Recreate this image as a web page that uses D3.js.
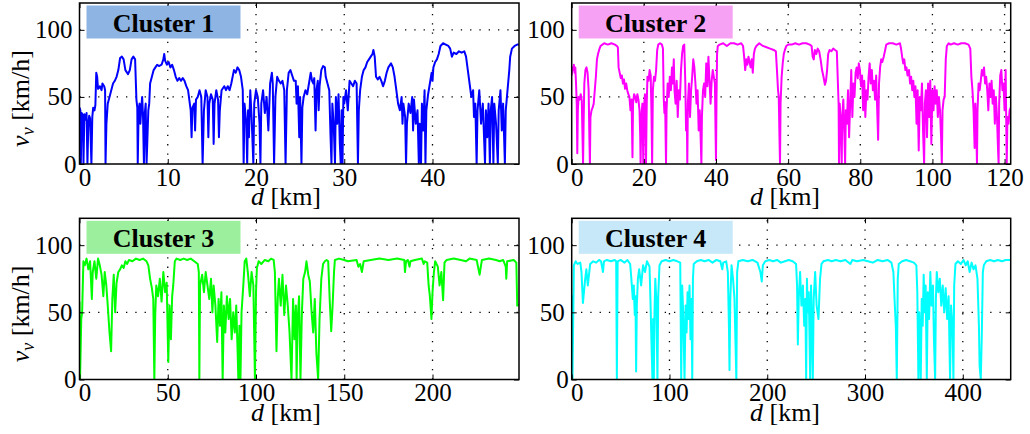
<!DOCTYPE html>
<html>
<head>
<meta charset="utf-8">
<script src="https://cdn.jsdelivr.net/npm/d3@7"></script>
<style>
  body { margin: 0; background: #fff; }
  svg text { font-family: "Liberation Serif", "Times New Roman", Times, serif; fill: #000; }
</style>
</head>
<body>
<svg id="chart" width="1030" height="434"></svg>
<script>
// Vehicle speed v_v [km/h] against travelled distance d [km], one trace per cluster.
const cluster1 = [
  [0,42],[0.1,40],[0.15,0],[0.25,38],[0.4,36],[0.45,0],[0.55,37],[0.7,33],[0.8,38],[0.9,0],[1.0,30],[1.1,36],[1.2,34],[1.35,0],
  [1.45,35],[1.55,42],[1.7,40],[1.8,44],[1.9,68],[2.0,65],[2.1,56],[2.3,58],[2.5,55],[2.6,60],[2.8,58],[2.9,55],[2.95,0],[3.05,30],
  [3.2,45],[3.4,50],[3.6,55],[3.8,60],[4.0,62],[4.2,65],[4.4,70],[4.6,79],[4.8,80],[5.0,78],[5.2,70],[5.5,67],[5.7,70],[5.9,78],
  [6.1,80],[6.3,78],[6.45,48],[6.55,42],[6.6,0],[6.7,40],[6.8,45],[6.9,30],[7.0,42],[7.1,50],[7.2,35],[7.3,0],[7.4,38],[7.5,45],
  [7.6,0],[7.7,20],[7.8,40],[7.9,45],[8.0,60],[8.2,65],[8.4,70],[8.6,72],[8.8,74],[9.0,73],[9.3,74],[9.5,78],[9.6,82],[9.7,77],
  [9.9,74],[10.1,76],[10.3,72],[10.5,74],[10.7,70],[10.9,65],[11.1,62],[11.3,64],[11.5,62],[11.7,64],[11.9,62],[12.1,58],[12.3,55],
  [12.5,45],[12.6,40],[12.7,20],[12.8,42],[13.0,45],[13.1,25],[13.2,48],[13.4,50],[13.6,55],[13.8,50],[13.95,0],[14.1,40],[14.3,55],
  [14.5,50],[14.6,20],[14.7,45],[14.9,52],[15.1,48],[15.2,15],[15.3,45],[15.5,55],[15.7,48],[15.8,20],[15.9,40],[16.1,55],[16.4,58],
  [16.6,55],[16.8,58],[17.0,55],[17.2,60],[17.5,70],[17.7,68],[17.9,72],[18.1,70],[18.3,65],[18.5,55],[18.6,0],[18.7,45],[18.9,30],
  [19.0,0],[19.1,40],[19.2,20],[19.35,55],[19.5,35],[19.7,0],[19.8,45],[20.0,55],[20.2,50],[20.4,30],[20.5,0],[20.6,45],[20.8,55],
  [21.0,38],[21.2,50],[21.4,25],[21.6,60],[21.8,68],[21.9,60],[22.05,0],[22.2,50],[22.4,65],[22.6,62],[22.8,60],[23.0,62],[23.2,55],
  [23.35,0],[23.5,55],[23.7,68],[23.9,70],[24.1,66],[24.3,62],[24.5,62],[24.6,45],[24.75,58],[24.9,20],[25.0,50],[25.15,0],[25.25,42],
  [25.4,50],[25.6,55],[25.8,52],[26.0,60],[26.2,68],[26.35,62],[26.5,60],[26.6,64],[26.75,25],[26.85,55],[27.0,62],[27.1,40],[27.2,58],
  [27.4,70],[27.6,73],[27.8,72],[27.9,65],[28.1,60],[28.3,55],[28.45,20],[28.55,0],[28.65,45],[28.8,30],[28.95,0],[29.05,50],[29.2,30],
  [29.35,52],[29.5,15],[29.6,0],[29.7,40],[29.8,0],[29.9,50],[30.0,45],[30.2,55],[30.4,40],[30.6,62],[30.8,60],[31.0,58],[31.2,62],
  [31.4,60],[31.55,0],[31.65,40],[31.8,55],[32.0,65],[32.2,70],[32.4,72],[32.6,76],[32.8,78],[33.0,80],[33.2,82],[33.3,85],[33.45,80],
  [33.6,65],[33.8,63],[34.0,65],[34.2,62],[34.4,58],[34.6,62],[34.8,68],[35.0,72],[35.3,75],[35.5,72],[35.7,65],[35.9,55],[36.1,45],
  [36.3,40],[36.5,50],[36.6,30],[36.7,45],[36.9,35],[37.0,0],[37.1,30],[37.3,45],[37.5,38],[37.7,50],[37.8,25],[37.9,48],[38.1,30],
  [38.3,40],[38.45,0],[38.55,30],[38.7,0],[38.8,45],[38.95,25],[39.1,55],[39.2,0],[39.3,40],[39.5,52],[39.7,60],[39.9,68],[40.0,62],
  [40.1,72],[40.3,76],[40.5,78],[40.7,82],[40.9,88],[41.2,90],[41.5,89],[41.8,88],[42.0,86],[42.2,80],[42.4,83],[42.7,82],[43.0,84],
  [43.3,83],[43.6,84],[43.8,80],[44.0,70],[44.2,60],[44.4,50],[44.6,55],[44.7,35],[44.85,45],[45.0,0],[45.1,40],[45.3,55],[45.5,30],
  [45.7,45],[45.95,0],[46.05,40],[46.2,20],[46.35,45],[46.5,0],[46.6,40],[46.75,50],[46.9,0],[47.0,45],[47.2,30],[47.4,0],[47.5,40],
  [47.7,55],[47.85,25],[48.0,45],[48.2,0],[48.3,40],[48.5,55],[48.7,70],[48.8,80],[49.0,86],[49.3,88],[49.6,89],[49.8,89]
];

const cluster2 = [
  [0,66],[0.2,72],[0.4,70],[0.6,74],[0.8,68],[1.0,72],[1.2,60],[1.4,45],[1.55,8],[1.7,40],[1.9,50],[2.2,48],[2.5,52],[2.8,47],
  [3.0,20],[3.15,0],[3.3,30],[3.5,60],[3.8,70],[4.1,72],[4.4,68],[4.7,55],[4.9,20],[5.05,0],[5.2,35],[5.5,40],[5.8,42],[6.1,45],
  [6.4,55],[6.7,65],[7.0,78],[7.3,82],[7.6,85],[8.0,88],[8.5,89],[9.0,90],[10.0,89],[11.0,90],[12.0,89],[12.5,88],[12.8,87],[13.0,72],
  [13.3,68],[13.6,64],[13.9,66],[14.2,60],[14.5,63],[14.8,56],[15.1,60],[15.4,55],[15.7,52],[16.0,50],[16.3,40],[16.6,48],[16.85,5],
  [17.0,45],[17.3,52],[17.6,50],[17.9,46],[18.2,52],[18.5,48],[18.8,40],[19.0,20],[19.1,0],[19.3,35],[19.6,45],[19.85,0],[20.0,40],
  [20.3,52],[20.6,0],[20.8,45],[21.0,65],[21.3,62],[21.6,70],[21.9,66],[22.1,40],[22.3,0],[22.5,55],[22.8,65],[23.1,62],[23.4,70],
  [23.7,85],[24.0,89],[24.5,90],[25.0,89],[25.3,86],[25.5,50],[25.7,38],[25.9,46],[26.15,0],[26.3,40],[26.6,60],[26.9,50],[27.2,65],
  [27.5,55],[27.8,72],[28.0,60],[28.3,78],[28.5,55],[28.8,45],[29.1,62],[29.4,35],[29.7,55],[30.0,48],[30.3,70],[30.6,82],[30.9,88],
  [31.2,89],[31.5,60],[31.7,25],[31.9,40],[32.05,0],[32.2,45],[32.5,60],[32.8,35],[33.1,55],[33.4,65],[33.7,78],[34.0,72],[34.3,60],
  [34.6,45],[34.9,55],[35.2,25],[35.5,40],[35.8,15],[35.95,0],[36.1,35],[36.4,55],[36.7,60],[37.0,50],[37.3,75],[37.6,58],[37.9,80],
  [38.2,62],[38.5,45],[38.8,62],[39.1,70],[39.4,65],[39.7,60],[39.9,20],[40.0,3],[40.15,50],[40.3,82],[40.5,88],[41,89],[42,90],
  [43,88],[44,90],[45,90],[46,89],[47,90],[47.5,88],[47.8,80],[48.1,70],[48.4,78],[48.7,74],[49.0,80],[49.3,76],[49.6,72],[49.9,78],
  [50.2,68],[50.5,82],[50.8,86],[51.2,88],[52,90],[53,88],[54,87],[55,86],[56,85],[56.6,84],[56.9,70],[57.2,55],[57.4,50],[57.6,20],
  [57.75,0],[57.9,45],[58.2,65],[58.5,75],[58.8,82],[59.1,85],[59.5,88],[60,89],[61,89],[62,90],[63,89],[64,90],[65,90],[66,89],
  [66.5,88],[66.8,80],[67.1,78],[67.4,85],[67.8,82],[68.2,86],[68.6,84],[69.0,78],[69.4,70],[69.8,65],[70.2,59],[70.5,62],[70.8,70],
  [71.1,82],[71.5,85],[72,84],[72.5,86],[73,85],[73.5,84],[73.8,60],[74.0,44],[74.1,0],[74.3,45],[74.6,30],[74.85,0],[75.0,35],
  [75.3,48],[75.6,20],[75.8,0],[76.0,40],[76.3,30],[76.6,55],[76.9,20],[77.2,45],[77.5,70],[77.8,35],[78.1,60],[78.4,50],[78.7,68],
  [79.0,72],[79.3,64],[79.6,75],[79.9,70],[80.2,58],[80.5,66],[80.8,40],[81.1,62],[81.4,35],[81.7,55],[82.0,48],[82.3,65],[82.6,75],
  [82.9,60],[83.2,70],[83.5,55],[83.8,62],[84.1,48],[84.4,66],[84.7,40],[84.95,18],[85.2,60],[85.5,72],[85.8,78],[86.1,76],[86.5,80],
  [86.9,85],[87.2,89],[88,90],[89,90],[90,89],[91,90],[91.3,86],[91.6,80],[91.9,75],[92.2,78],[92.5,70],[92.8,72],[93.1,66],[93.5,70],
  [93.8,60],[94.1,65],[94.4,55],[94.7,62],[95.0,50],[95.3,58],[95.6,30],[95.9,55],[96.2,10],[96.5,50],[96.8,40],[97.1,60],[97.4,25],
  [97.7,0],[97.9,45],[98.2,55],[98.5,20],[98.8,60],[99.1,35],[99.4,62],[99.7,15],[100.0,55],[100.3,40],[100.6,58],[100.9,45],[101.2,55],
  [101.5,35],[101.8,50],[102.1,40],[102.4,20],[102.6,0],[102.8,40],[103.1,48],[103.4,50],[103.7,78],[104.0,88],[104.5,90],[105,89],
  [106,90],[107,89],[108,90],[109,90],[110,89],[110.5,86],[110.8,65],[111.1,55],[111.4,40],[111.7,12],[111.9,45],[112.2,20],[112.35,0],
  [112.5,40],[112.8,60],[113.1,55],[113.4,62],[113.7,70],[114.0,66],[114.3,72],[114.6,60],[114.9,65],[115.2,55],[115.5,40],[115.8,60],
  [116.1,50],[116.4,62],[116.7,45],[117.0,55],[117.3,30],[117.6,50],[117.9,35],[118.2,10],[118.35,0],[118.5,45],[118.8,66],[119.1,70],
  [119.4,55],[119.7,60],[120.0,40],[120.3,70],[120.6,0],[120.8,35],[121.1,30],[121.4,40],[121.7,42]
];

const cluster3 = [
  [0,58],[0.3,0],[1.0,45],[1.5,50],[2.2,88],[3,85],[4,90],[5,82],[6,88],[7,60],[7.5,80],[8.5,88],[9.5,75],[10.5,90],[11.5,85],
  [12.5,78],[13.5,62],[14.3,80],[15.2,70],[16,55],[17,35],[17.9,21],[18.6,60],[19.4,78],[20.2,50],[21,72],[22,80],[23,82],[24,85],
  [25,83],[26,88],[27,86],[28,89],[30,88],[32,90],[34,89],[36,90],[38,88],[39,85],[40,75],[41,68],[41.8,60],[42.4,0],[42.9,48],
  [43.5,70],[44.5,62],[45.5,75],[46.5,58],[47.5,80],[48.5,65],[49.4,72],[50.3,13],[51,55],[51.8,30],[52.5,62],[53.1,70],[54,88],
  [55,90],[57,89],[59,90],[61,89],[63,90],[65,88],[67,86],[67.6,80],[67.9,0],[68.3,70],[69.5,78],[70.5,65],[71.5,80],[72.5,70],
  [73.5,60],[74.5,75],[75.3,50],[76,70],[77,55],[78,28],[78.8,60],[79.6,40],[80.4,65],[81.1,0],[81.8,55],[82.6,35],[83.5,62],
  [84.5,45],[85.3,60],[86.2,30],[87.1,50],[88,35],[88.8,55],[89.6,20],[90,0],[90.6,40],[91.2,0],[91.8,50],[92.8,70],[93.6,88],
  [94.5,90],[95.5,78],[96.5,62],[97.5,80],[98.5,70],[99.4,0],[100,65],[100.5,83],[101.5,88],[103,86],[105,89],[107,88],[108.5,90],
  [110,89],[110.7,80],[111.6,21],[112.3,60],[113,75],[114,55],[115,78],[116,48],[117,70],[118,55],[119,35],[120.1,0],[121,60],
  [121.8,30],[122.6,55],[123,0],[123.6,45],[124.4,62],[125.2,0],[126,50],[126.8,75],[127.8,80],[128.6,88],[129.6,78],[130.5,73],
  [131.5,50],[132.4,35],[133.3,60],[134.2,20],[135.2,0],[136,45],[137,75],[138,86],[139,88],[140,89],[140.9,88],[141.8,58],[142.6,36],
  [143.4,55],[144.2,80],[144.7,89],[147,90],[150,89],[152,88],[157,89],[158,84],[159,86],[160,80],[161,88],[165,89],[170,90],
  [175,89],[180,90],[184,89],[184.4,80],[185,88],[186,89],[187,84],[187.5,88],[190,89],[194,90],[195,86],[195.6,88],[197,87],
  [197.8,70],[198.5,62],[199.4,45],[200,65],[200.8,80],[201.5,88],[203,84],[204,70],[205,80],[206,59],[206.8,87],[208,89],[212,90],
  [216,89],[219,88],[221,90],[225,89],[226.7,78],[227.5,85],[228,89],[232,90],[236,89],[238,88],[240,89],[241.5,84],[241.8,75],
  [242.3,88],[246,89],[247.5,87],[248,55],[249,56]
];

const cluster4 = [
  [0,63],[0.8,0],[2.2,85],[4,88],[6,86],[8.8,87],[10,80],[11.5,57],[12.5,65],[13.8,75],[15,82],[16.5,70],[18.9,86],[22,88],
  [25,87],[28,89],[30,88],[32,80],[33,88],[36,89],[40,88],[44,89],[45.5,88],[46.2,0],[47,88],[50,89],[54,87],[57,89],[59.8,86],
  [61,75],[62.5,60],[63.5,70],[64.5,48],[65.2,62],[65.9,6],[66.6,55],[67.7,75],[69,82],[71,70],[73,85],[75,80],[77,88],[79.6,84],
  [80.5,60],[81.5,30],[82.6,0],[83.3,45],[84,0],[84.7,50],[85.5,75],[86.5,60],[87.7,0],[88.5,62],[89.8,85],[92,88],[96,89],
  [100,88],[104,89],[108,88],[111,87],[112,0],[113,70],[114,50],[115.4,0],[116.5,55],[117.5,35],[118.5,65],[119.5,45],[120.5,70],
  [121.5,30],[122.5,60],[123.3,0],[124,75],[124.8,86],[128,88],[132,89],[136,88],[140,89],[144,87],[148,89],[152,88],[154,82],
  [155,87],[158,88],[159.7,80],[160.8,40],[161.4,7],[162.2,60],[163.5,85],[165,75],[166.5,60],[168.4,0],[169.2,80],[170.5,88],
  [175,89],[180,88],[185,89],[190,87],[193,80],[194.4,73],[195.5,85],[198,88],[202,89],[206,88],[210,89],[214,87],[218,88],
  [222,89],[226,88],[229.5,86],[230.5,70],[231.3,26],[232.2,60],[233.6,80],[235,55],[236.5,70],[237.8,40],[239,60],[239.8,0],
  [240.6,75],[241.5,50],[242.5,65],[243.9,0],[244.8,70],[245.6,45],[246.6,0],[247.5,60],[249,80],[250.5,55],[252.4,45],[254,75],
  [255.5,86],[257.5,88],[262,89],[266,88],[270,89],[275,88],[280,89],[285,86],[287,89],[292,88],[298,89],[303,88],[308,87],
  [313,89],[318,88],[323,89],[327,87],[329,80],[330.5,55],[331.5,40],[332.5,0],[333.5,75],[334.5,86],[338,88],[342,89],[346,88],
  [350,87],[352.5,85],[353.5,65],[354.6,0],[355.5,50],[356.3,30],[357,0],[358,60],[359,40],[360,78],[361,50],[362,70],[363.2,0],
  [364.2,65],[365.5,45],[366.8,80],[368,55],[369.5,70],[370.5,30],[371.7,0],[372.5,60],[373.4,80],[375,65],[376.5,75],[378,55],
  [379.5,70],[381,50],[382.5,68],[384,45],[385.5,62],[387,0],[388,55],[389.5,40],[390.4,0],[391.2,70],[392.5,86],[395,88],[398,86],
  [400.7,89],[403,85],[405,88],[407,80],[409,87],[411,82],[413,85],[415,75],[416.5,40],[417.2,10],[418.4,0],[419.5,35],[420.5,80],
  [421.5,85],[424,88],[428,89],[432,88],[436,89],[440,88],[444,89],[449,89]
];

const clusterNames = ["Cluster 1", "Cluster 2", "Cluster 3", "Cluster 4"];
const distanceMax = [49.8, 121.7, 249, 449];
const xTicks = [[0, 10, 20, 30, 40], [0, 20, 40, 60, 80, 100, 120], [0, 50, 100, 150, 200], [0, 100, 200, 300, 400]];
const yTicks = [0, 50, 100];
const speedMax = 120;

const lineColors = ["#0000ff", "#ff00ff", "#00ff00", "#00ffff"];
const tagColors = ["#8db4e2", "#f7a1f4", "#9cef9c", "#c6e8f8"];
const series = [cluster1, cluster2, cluster3, cluster4];

const FONT = "'Liberation Serif', 'Times New Roman', Times, serif";

// Panel frames: two columns, two rows
const cols = [[79.5, 519], [571.7, 1010.7]];
const rows = [[3, 164], [218.3, 379.5]];
const xLabelCenter = [286, 785];

const svg = d3.select("#chart");
svg.append("rect").attr("width", 1030).attr("height", 434).attr("fill", "#fff");

series.forEach((data, i) => {
  const col = i % 2, row = Math.floor(i / 2);
  const [x0, x1] = cols[col];
  const [y0, y1] = rows[row];
  const x = d3.scaleLinear().domain([0, distanceMax[i]]).range([x0, x1]);
  const y = d3.scaleLinear().domain([0, speedMax]).range([y1, y0]);
  const g = svg.append("g").attr("font-family", FONT);

  const clipId = "plotclip" + i;
  g.append("clipPath").attr("id", clipId)
    .append("rect").attr("x", x0).attr("y", y0).attr("width", x1 - x0).attr("height", y1 - y0);

  // dotted grid
  const grid = g.append("g")
    .attr("stroke", "#000").attr("stroke-width", 1.3).attr("stroke-dasharray", "1.3,8");
  grid.selectAll("line.gx").data(xTicks[i].filter(t => t > 0)).join("line").attr("class", "gx")
    .attr("x1", d => x(d)).attr("x2", d => x(d)).attr("y1", y1).attr("y2", y0);
  grid.selectAll("line.gy").data(yTicks.filter(t => t > 0)).join("line").attr("class", "gy")
    .attr("x1", x0).attr("x2", x1).attr("y1", d => y(d)).attr("y2", d => y(d));

  // speed trace
  g.append("path").datum(data)
    .attr("clip-path", `url(#${clipId})`)
    .attr("fill", "none").attr("stroke", lineColors[i]).attr("stroke-width", 2)
    .attr("stroke-linejoin", "round")
    .attr("d", d3.line().x(d => x(d[0])).y(d => y(d[1])));

  // axes with inward ticks on all four sides
  const styleAxis = sel => {
    sel.attr("font-size", 25).attr("font-family", FONT);
    sel.select(".domain").remove();
    sel.selectAll(".tick line").attr("stroke", "#000").attr("stroke-width", 1);
    sel.selectAll(".tick text").attr("font-family", FONT);
  };
  const bottom = g.append("g").attr("transform", `translate(0,${y1})`)
    .call(d3.axisBottom(x).tickValues(xTicks[i]).tickSize(-5).tickSizeOuter(0).tickPadding(4).tickFormat(d3.format("d")))
    .call(styleAxis);
  bottom.selectAll(".tick text").filter(d => d === 0).attr("dx", 5);

  g.append("g").attr("transform", `translate(0,${y0})`)
    .call(d3.axisTop(x).tickValues(xTicks[i]).tickSize(-5).tickSizeOuter(0).tickFormat(""))
    .call(styleAxis);

  const left = g.append("g").attr("transform", `translate(${x0},0)`)
    .call(d3.axisLeft(y).tickValues(yTicks).tickSize(-5).tickSizeOuter(0).tickPadding(7))
    .call(styleAxis);
  left.selectAll(".tick text").filter(d => d === 0).attr("dx", 4);

  g.append("g").attr("transform", `translate(${x1},0)`)
    .call(d3.axisRight(y).tickValues(yTicks).tickSize(-5).tickSizeOuter(0).tickFormat(""))
    .call(styleAxis);

  // axes box
  g.append("rect").attr("x", x0).attr("y", y0).attr("width", x1 - x0).attr("height", y1 - y0)
    .attr("fill", "none").attr("stroke", "#000").attr("stroke-width", 1.5);

  // cluster tag
  const tx = x0 + 7, ty = y0 + 2.5, tw = 154, th = 33;
  g.append("rect").attr("x", tx).attr("y", ty).attr("width", tw).attr("height", th).attr("fill", tagColors[i]);
  g.append("text").attr("x", tx + tw / 2).attr("y", ty + 26)
    .attr("text-anchor", "middle").attr("font-size", 26).attr("font-weight", "bold")
    .attr("font-family", FONT)
    .text(clusterNames[i]);

  // x label
  const xl = g.append("text").attr("x", xLabelCenter[col]).attr("y", y1 + 41)
    .attr("text-anchor", "middle").attr("font-size", 26).attr("font-family", FONT);
  xl.append("tspan").attr("font-style", "italic").text("d");
  xl.append("tspan").text(" [km]");

  // y label on the left column
  if (col === 0) {
    const cy = (y0 + y1) / 2 + 15;
    const yl = g.append("text").attr("transform", `translate(29,${cy}) rotate(-90)`)
      .attr("text-anchor", "middle").attr("font-size", 26).attr("font-family", FONT);
    yl.append("tspan").attr("font-style", "italic").text("v");
    yl.append("tspan").attr("font-style", "italic").attr("font-size", 18).attr("dy", 5).text("v");
    yl.append("tspan").attr("dy", -5).text(" [km/h]");
  }
});
</script>
</body>
</html>
